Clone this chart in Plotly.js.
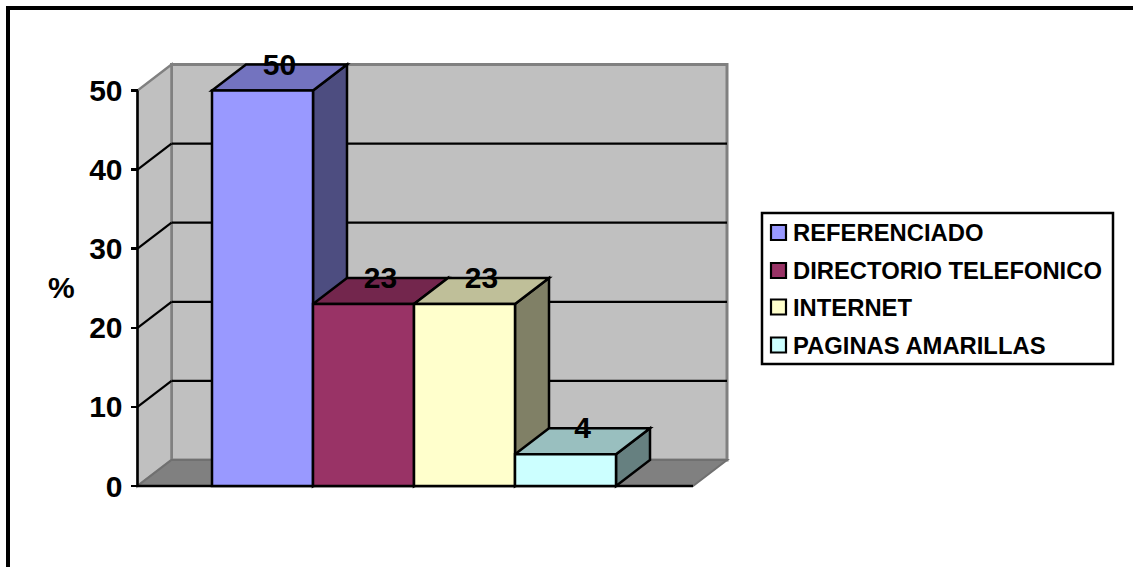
<!DOCTYPE html>
<html>
<head>
<meta charset="utf-8">
<script src="https://cdn.plot.ly/plotly-3.0.1.min.js"></script>
<style>html,body{margin:0;padding:0;background:#fff;overflow:hidden}</style>
</head>
<body>
<div id="chart" style="width:1133px;height:567px"></div>
<script>
// Survey results: how respondents found the service (%)
const categories = ['REFERENCIADO', 'DIRECTORIO TELEFONICO', 'INTERNET', 'PAGINAS AMARILLAS'];
const values = [50, 23, 23, 4];
const frontColors = ['#9999FF', '#993366', '#FFFFCC', '#CCFFFF'];
const topColors = ['#7373BF', '#73264D', '#BFBF99', '#99BFBF'];
const sideColors = ['#4D4D80', '#4D1933', '#808066', '#668080'];
const yTicks = [0, 10, 20, 30, 40, 50];

const W = 1133, H = 567;
// Pixel scale of the data axes
const pxPerX = 101, pxPerY = 7.91;
const originX = 137.5, originY = 486;
// Oblique projection of the chart depth, in data units
const depthX = 34 / pxPerX, depthY = 26 / pxPerY;
const firstBar = (262.5 - originX) / pxPerX;
const floorW = 555.5 / pxPerX;
const wallTop = 50;
const labelDrop = 2.5 / pxPerY;

const positions = categories.map((_, i) => firstBar + i);
const px = v => v / W, py = v => 1 - v / H;
const poly = pts => 'M' + pts.map(p => p[0] + ',' + p[1]).join('L') + 'Z';
const dataShape = (path, fill, color, width) => ({
  type: 'path', layer: 'below', xref: 'x', yref: 'y', path,
  fillcolor: fill, line: {color, width}
});
const lineShape = (x0, y0, x1, y1, color, width) => ({
  type: 'line', layer: 'below', xref: 'x', yref: 'y', x0, y0, x1, y1, line: {color, width}
});

const shapes = [];
// Walls and floor
shapes.push(dataShape(poly([[depthX, depthY], [depthX + floorW, depthY], [depthX + floorW, wallTop + depthY], [depthX, wallTop + depthY]]), '#C0C0C0', '#808080', 3));
shapes.push(dataShape(poly([[0, 0], [depthX, depthY], [depthX, wallTop + depthY], [0, wallTop]]), '#C0C0C0', '#808080', 2.5));
shapes.push(dataShape(poly([[0, 0], [floorW, 0], [floorW + depthX, depthY], [depthX, depthY]]), '#808080', '#707070', 2));
// Gridlines across side wall and back wall
yTicks.filter(t => t > 0 && t < wallTop).forEach(t => {
  shapes.push(lineShape(0, t, depthX, t + depthY, '#000', 2.2));
  shapes.push(lineShape(depthX, t + depthY, depthX + floorW, t + depthY, '#000', 2.2));
});
// Axis lines at the front of the box
shapes.push(lineShape(0, 0, 0, wallTop, '#000', 2.5));
shapes.push(lineShape(0, 0, floorW, 0, '#000', 2.5));
// Side and top faces of each column
values.forEach((v, i) => {
  const l = positions[i] - 0.5, r = positions[i] + 0.5;
  shapes.push(dataShape(poly([[r, 0], [r + depthX, depthY], [r + depthX, v + depthY], [r, v]]), sideColors[i], '#000', 2.5));
  shapes.push(dataShape(poly([[l, v], [r, v], [r + depthX, v + depthY], [l + depthX, v + depthY]]), topColors[i], '#000', 2.5));
});
// Outer frame, open on the right and at the bottom
shapes.push({type: 'path', xref: 'paper', yref: 'paper', layer: 'above',
  path: `M${px(8)},${py(H + 4)}L${px(8)},${py(8)}L${px(W + 4)},${py(8)}`, line: {color: '#000', width: 4}});
// Legend box and swatches
shapes.push({type: 'rect', xref: 'paper', yref: 'paper', layer: 'above',
  x0: px(762), x1: px(1113), y0: py(213), y1: py(364), fillcolor: '#fff', line: {color: '#000', width: 2.5}});

const legendRows = [232.5, 270.5, 307, 345];
const annotations = [];
categories.forEach((name, i) => {
  shapes.push({type: 'rect', xref: 'paper', yref: 'paper', layer: 'above',
    x0: px(771), x1: px(786), y0: py(legendRows[i] - 7.5), y1: py(legendRows[i] + 7.5),
    fillcolor: frontColors[i], line: {color: '#000', width: 2.2}});
  annotations.push({xref: 'paper', yref: 'paper', x: px(790.5), y: py(legendRows[i]),
    xanchor: 'left', yanchor: 'middle', showarrow: false, text: '<b>' + name + '</b>',
    font: {family: '"Liberation Sans", Arial, sans-serif', size: 23.8, color: '#000'}});
});
annotations.push({xref: 'paper', yref: 'paper', x: px(61.5), y: py(287), xanchor: 'center', yanchor: 'middle',
  showarrow: false, text: '<b>%</b>', font: {family: '"Liberation Sans", Arial, sans-serif', size: 30, color: '#000'}});

const traces = [
  {
    type: 'bar', x: positions, y: values, width: 1, text: categories, textposition: 'none',
    marker: {color: frontColors, line: {color: '#000', width: 2.5}}, hoverinfo: 'text+y', showlegend: false
  },
  {
    type: 'scatter', mode: 'text', showlegend: false, hoverinfo: 'skip',
    x: positions.map(p => p + depthX / 2),
    y: values.map(v => v + depthY - labelDrop),
    text: values.map(String), textposition: 'middle center', cliponaxis: false,
    textfont: {family: '"Liberation Sans", Arial, sans-serif', size: 30, color: '#000', weight: 700}
  }
];

const layout = {
  width: W, height: H, margin: {l: 0, r: 0, t: 0, b: 0},
  paper_bgcolor: '#fff', plot_bgcolor: '#fff', showlegend: false, barmode: 'overlay',
  xaxis: {visible: false, range: [-originX / pxPerX, (W - originX) / pxPerX], domain: [0, 1], fixedrange: true},
  yaxis: {
    range: [(originY - H) / pxPerY, originY / pxPerY], domain: [0, 1], anchor: 'free', position: originX / W, side: 'left',
    tickmode: 'array', tickvals: yTicks, ticktext: yTicks.map(String), ticks: 'outside', ticklen: 7, tickwidth: 2.5, tickcolor: '#000',
    showgrid: false, zeroline: false, showline: false, ticklabelstandoff: 2, fixedrange: true,
    tickfont: {family: '"Liberation Sans", Arial, sans-serif', size: 30, color: '#000', weight: 700}
  },
  shapes, annotations
};
Plotly.newPlot('chart', traces, layout, {displayModeBar: false, staticPlot: true});
</script>
</body>
</html>
